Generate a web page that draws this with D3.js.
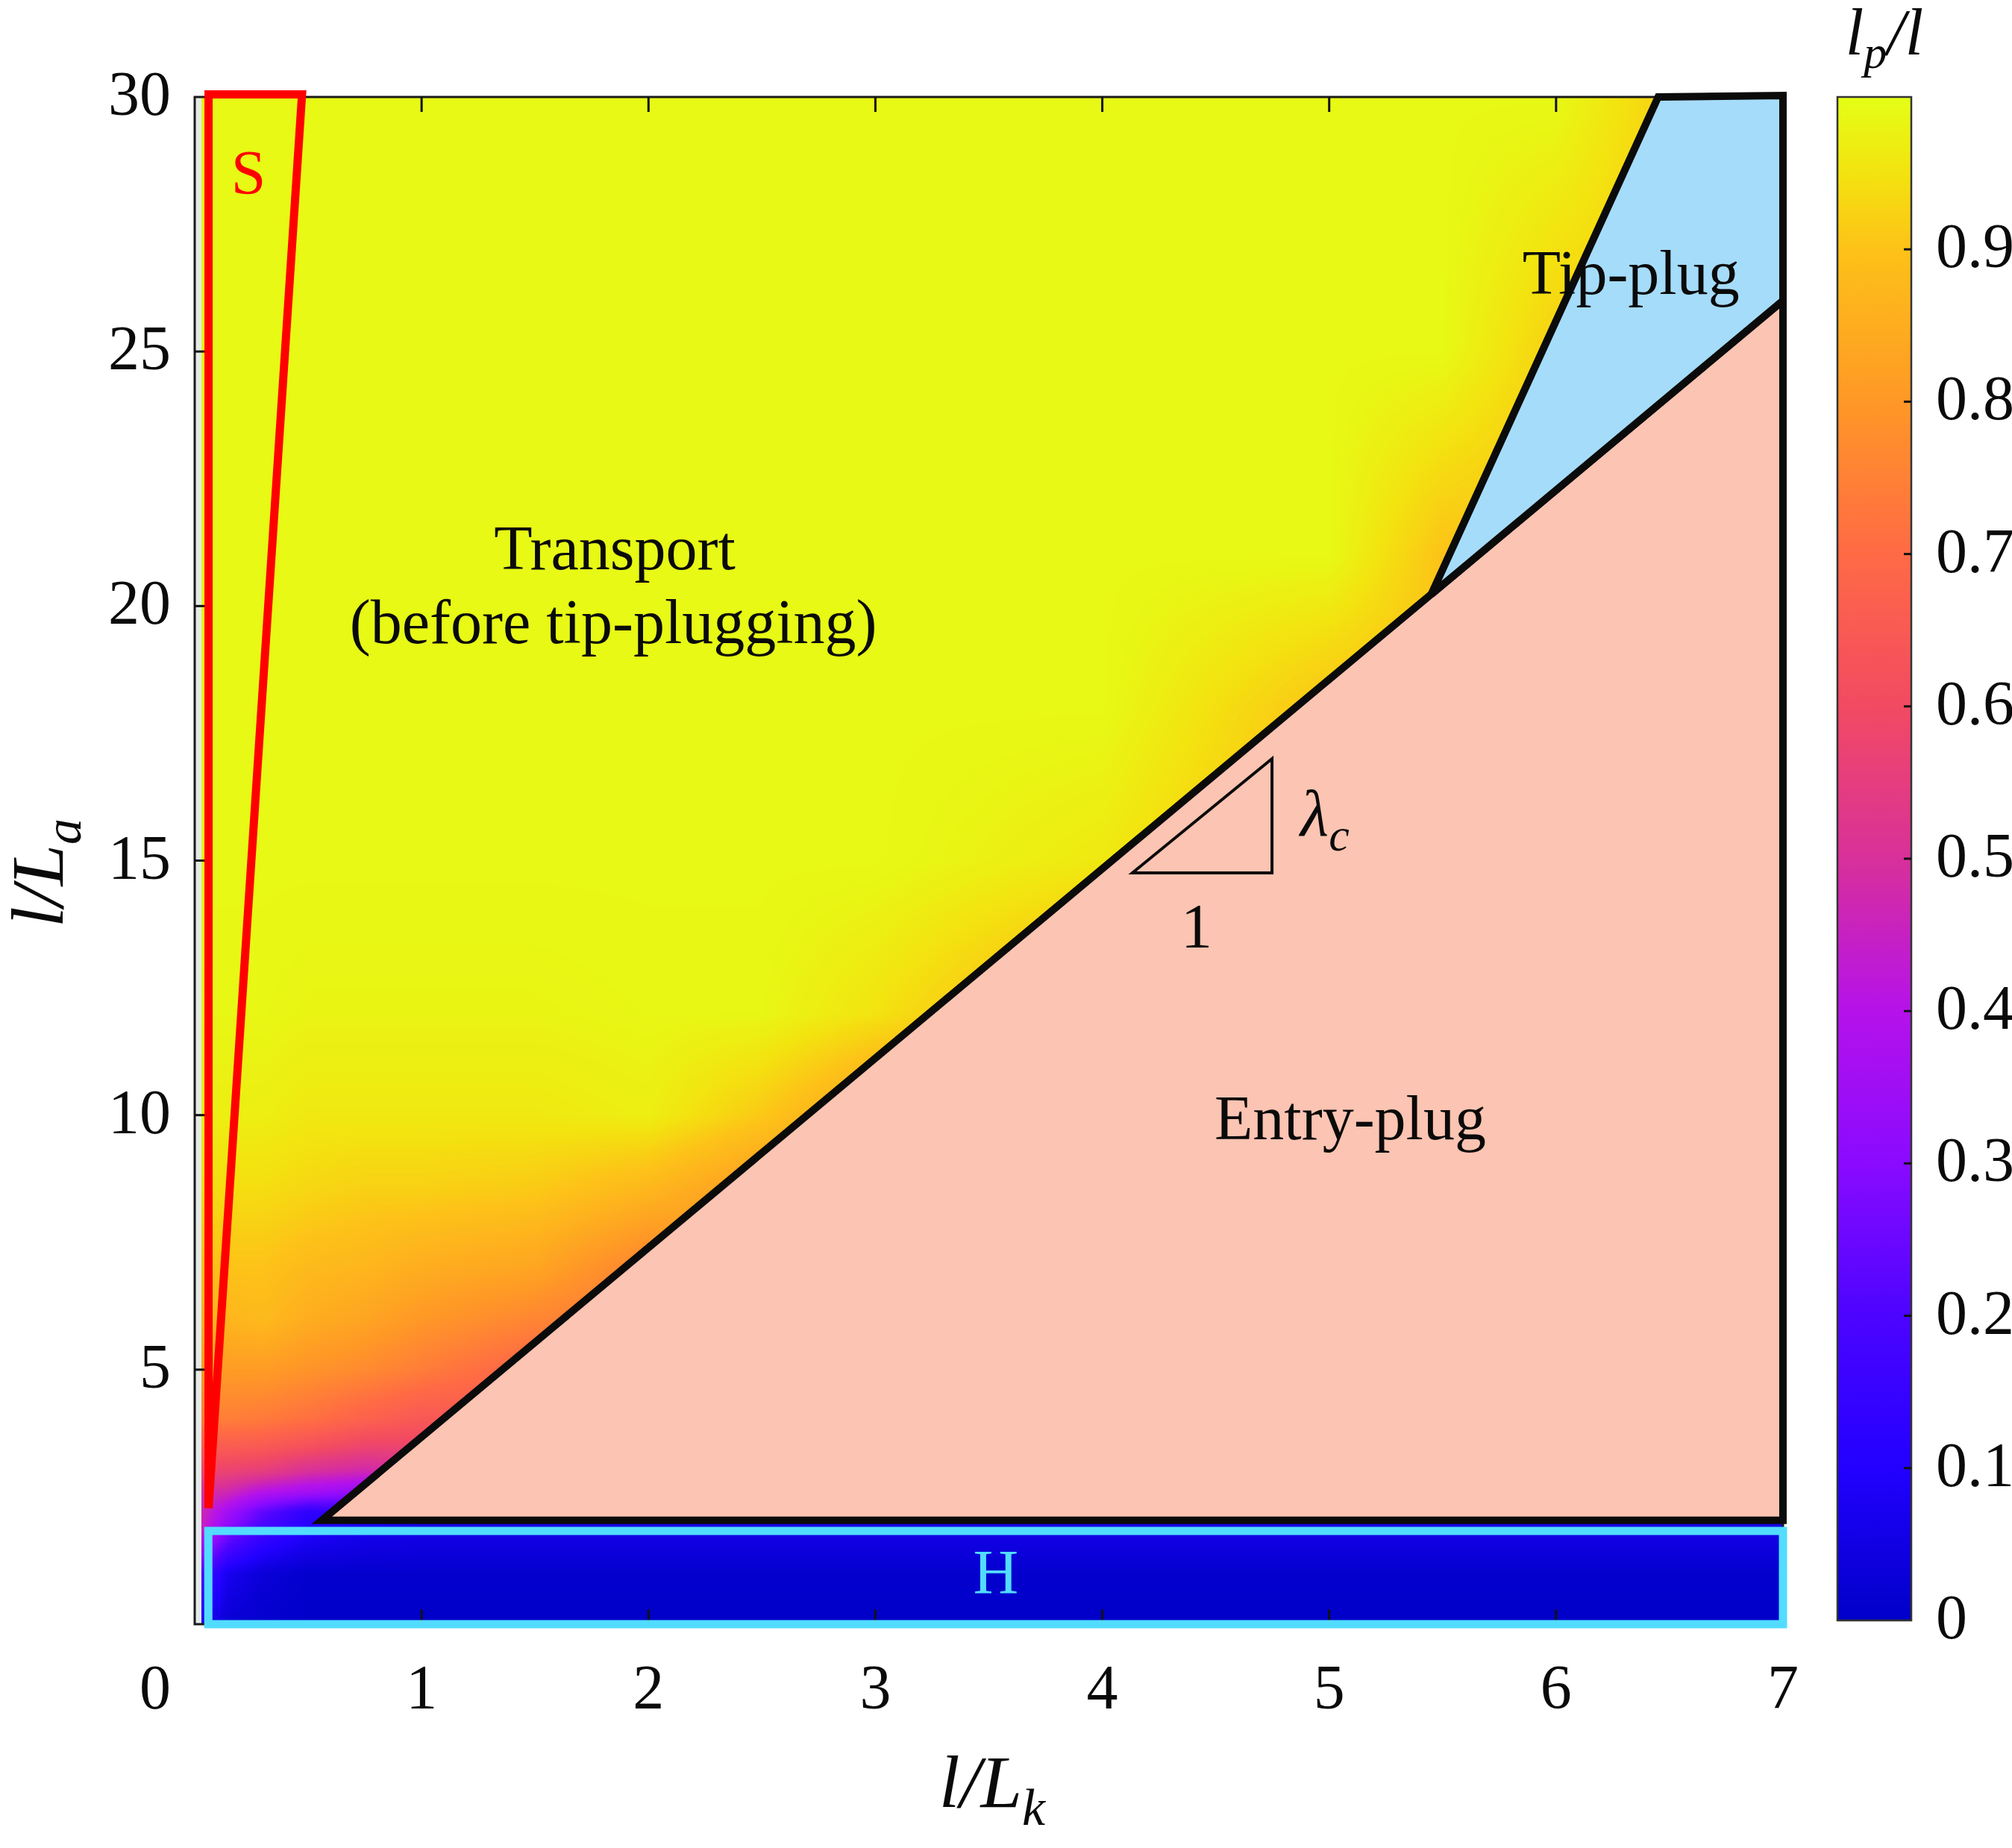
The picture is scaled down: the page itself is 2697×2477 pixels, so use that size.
<!DOCTYPE html>
<html>
<head>
<meta charset="utf-8">
<script src="https://cdn.jsdelivr.net/npm/d3@7"></script>
<style>
  body { margin: 0; background: #fff; }
  #wrap { position: relative; width: 2697px; height: 2477px; }
  #wrap canvas, #wrap svg { position: absolute; left: 0; top: 0; }
  text { font-family: "Liberation Serif", "Times New Roman", serif; fill: #0a0a0a; }
</style>
</head>
<body>
<div id="wrap"><canvas id="heat"></canvas><svg id="chart"></svg></div>
<script>
const W = 2697, H = 2477;

const heatX = [0.03, 0.15, 0.3, 0.5, 0.75, 1.0, 1.5, 2.0, 2.5, 3.0, 4.0, 5.0, 5.5, 6.0, 6.5, 7.0];
const heatY = [0, 1, 1.85, 2.0, 2.2, 2.6, 3.0, 3.5, 4.0, 5.0, 6.0, 7.0, 8.5, 10, 12, 15, 18, 21, 25, 30];
const heatZ = [
  [0.08, 0.02, 0.01, 0.00, 0.00, 0.00, 0.00, 0.00, 0.00, 0.00, 0.00, 0.00, 0.00, 0.00, 0.00, 0.00],
  [0.20, 0.07, 0.03, 0.01, 0.01, 0.01, 0.01, 0.01, 0.01, 0.01, 0.01, 0.01, 0.01, 0.01, 0.01, 0.01],
  [0.45, 0.28, 0.17, 0.10, 0.07, 0.06, 0.06, 0.06, 0.06, 0.06, 0.06, 0.06, 0.06, 0.06, 0.06, 0.06],
  [0.46, 0.32, 0.20, 0.11, 0.08, 0.06, 0.06, 0.06, 0.06, 0.06, 0.06, 0.06, 0.06, 0.06, 0.06, 0.06],
  [0.47, 0.35, 0.23, 0.13, 0.16, 0.20, 0.65, 0.75, 0.85, 0.88, 0.90, 0.90, 0.90, 0.90, 0.90, 0.90],
  [0.50, 0.47, 0.40, 0.36, 0.32, 0.35, 0.65, 0.75, 0.85, 0.88, 0.90, 0.90, 0.90, 0.90, 0.90, 0.90],
  [0.58, 0.57, 0.55, 0.50, 0.47, 0.50, 0.65, 0.75, 0.85, 0.88, 0.90, 0.90, 0.90, 0.90, 0.90, 0.90],
  [0.66, 0.66, 0.65, 0.62, 0.58, 0.58, 0.65, 0.75, 0.85, 0.88, 0.90, 0.90, 0.90, 0.90, 0.90, 0.90],
  [0.74, 0.74, 0.73, 0.71, 0.67, 0.64, 0.65, 0.75, 0.85, 0.88, 0.90, 0.90, 0.90, 0.90, 0.90, 0.90],
  [0.81, 0.81, 0.81, 0.79, 0.77, 0.74, 0.68, 0.75, 0.85, 0.88, 0.90, 0.90, 0.90, 0.90, 0.90, 0.90],
  [0.86, 0.87, 0.88, 0.85, 0.83, 0.80, 0.76, 0.72, 0.85, 0.88, 0.90, 0.90, 0.90, 0.90, 0.90, 0.90],
  [0.89, 0.90, 0.90, 0.88, 0.87, 0.85, 0.83, 0.75, 0.85, 0.88, 0.90, 0.90, 0.90, 0.90, 0.90, 0.90],
  [0.94, 0.94, 0.94, 0.93, 0.92, 0.92, 0.91, 0.87, 0.80, 0.88, 0.90, 0.90, 0.90, 0.90, 0.90, 0.90],
  [0.97, 0.97, 0.97, 0.96, 0.96, 0.96, 0.96, 0.97, 0.91, 0.82, 0.90, 0.90, 0.90, 0.90, 0.90, 0.90],
  [0.985, 0.985, 0.985, 0.98, 0.98, 0.98, 0.98, 0.985, 0.985, 0.95, 0.85, 0.90, 0.90, 0.90, 0.90, 0.90],
  [0.99, 0.99, 0.99, 0.99, 0.99, 0.99, 0.99, 0.99, 0.99, 0.99, 0.96, 0.88, 0.90, 0.90, 0.90, 0.90],
  [0.99, 0.99, 0.99, 0.99, 0.99, 0.99, 0.99, 0.99, 0.99, 0.99, 0.99, 0.90, 0.90, 0.90, 0.90, 0.90],
  [0.99, 0.99, 0.99, 0.99, 0.99, 0.99, 0.99, 0.99, 0.99, 0.99, 0.99, 0.99, 0.90, 0.90, 0.92, 0.92],
  [0.99, 0.99, 0.99, 0.99, 0.99, 0.99, 0.99, 0.99, 0.99, 0.99, 0.99, 0.99, 0.99, 0.92, 0.92, 0.92],
  [0.99, 0.99, 0.99, 0.99, 0.99, 0.99, 0.99, 0.99, 0.99, 0.99, 0.99, 0.99, 0.99, 0.99, 0.92, 0.92]
];

// colour map of the colour bar
const cmapValues = [0, 0.1, 0.2, 0.3, 0.4, 0.5, 0.6, 0.7, 0.8, 0.9, 0.95, 1.0];
const cmapColors = ['#0000c8', '#2200ff', '#4c04ff', '#8a0aff', '#b512ea', '#d8309a',
                    '#f24a62', '#ff6a45', '#ff9826', '#fdc218', '#f3e30f', '#e4ff16'];

const xTicks = [1, 2, 3, 4, 5, 6, 7];
const yTicks = [5, 10, 15, 20, 25, 30];
const cbTicks = [0.1, 0.2, 0.3, 0.4, 0.5, 0.6, 0.7, 0.8, 0.9];

// regime outlines in data coordinates
const entryPlug = [[0.56, 2.04], [7.0, 2.04], [7.0, 26.0]];
const tipPlug = [[5.45, 20.23], [6.45, 30.0], [7.0, 30.03], [7.0, 26.0]];
const sRegion = [[0.061, 30.05], [0.473, 30.05], [0.061, 2.28]];
const hRegion = [[0.06, 0], [7.0, 1.832]];
const slopeTri = [[4.133, 14.76], [4.748, 14.76], [4.748, 17.0]];

const x = d3.scaleLinear().domain([0, 7]).range([261, 2390]);
const y = d3.scaleLinear().domain([0, 30]).range([2177, 130]);
const cb = d3.scaleLinear().domain([0, 1]).range([2172, 130]);
const color = d3.scaleLinear().domain(cmapValues).range(cmapColors).clamp(true);

// ---- heat map (bilinear shading of the grid, like shading interp)
const px0 = x(0), py0 = y(30);
const cw = Math.round(x(7) - px0), ch = Math.round(y(0) - py0);
const canvas = d3.select('#heat')
  .attr('width', cw).attr('height', ch)
  .style('left', px0 + 'px').style('top', py0 + 'px')
  .node();
const ctx = canvas.getContext('2d');
const img = ctx.createImageData(cw, ch);
const lut = d3.range(1001).map(k => d3.rgb(color(k / 1000)));
const cell = (arr, v) => Math.max(0, Math.min(arr.length - 2, d3.bisectRight(arr, v) - 1));
const colIdx = d3.range(cw).map(i => {
  const dx = x.invert(px0 + i + 0.5);
  const c = cell(heatX, dx);
  return { dx, c, t: Math.max(0, Math.min(1, (dx - heatX[c]) / (heatX[c + 1] - heatX[c]))) };
});
for (let j = 0; j < ch; j++) {
  const dy = y.invert(py0 + j + 0.5);
  const r = cell(heatY, dy);
  const ty = Math.max(0, Math.min(1, (dy - heatY[r]) / (heatY[r + 1] - heatY[r])));
  const z0 = heatZ[r], z1 = heatZ[r + 1];
  for (let i = 0; i < cw; i++) {
    const k = (j * cw + i) * 4;
    const ci = colIdx[i];
    if (ci.dx < heatX[0]) {
      img.data[k] = 228; img.data[k + 1] = 235; img.data[k + 2] = 233; img.data[k + 3] = 255;
      continue;
    }
    const c = ci.c, tx = ci.t;
    const a = z0[c] + (z0[c + 1] - z0[c]) * tx;
    const b = z1[c] + (z1[c + 1] - z1[c]) * tx;
    const col = lut[Math.round((a + (b - a) * ty) * 1000)];
    img.data[k] = col.r; img.data[k + 1] = col.g; img.data[k + 2] = col.b; img.data[k + 3] = 255;
  }
}
ctx.putImageData(img, 0, 0);

// ---- vector layer
const svg = d3.select('#chart').attr('width', W).attr('height', H);
const poly = d3.line().x(d => x(d[0])).y(d => y(d[1]));

// frame and inward ticks
svg.append('rect')
  .attr('x', x(0)).attr('y', y(30))
  .attr('width', x(7) - x(0)).attr('height', y(0) - y(30))
  .attr('fill', 'none').attr('stroke', '#1a1a1a').attr('stroke-width', 3);

const ticks = svg.append('g').attr('stroke', '#111').attr('stroke-width', 3);
ticks.selectAll('.yt').data(yTicks.slice(0, -1)).join('line')
  .attr('x1', x(0)).attr('x2', x(0) + 14)
  .attr('y1', d => y(d)).attr('y2', d => y(d));
ticks.selectAll('.xb').data(xTicks.slice(0, -1)).join('line').attr('class', 'xb')
  .attr('x1', d => x(d)).attr('x2', d => x(d))
  .attr('y1', y(0)).attr('y2', y(0) - 20);
ticks.selectAll('.xt').data(xTicks.slice(0, -1)).join('line').attr('class', 'xt')
  .attr('x1', d => x(d)).attr('x2', d => x(d))
  .attr('y1', y(30)).attr('y2', y(30) + 20);

// regimes
svg.append('path')
  .attr('d', poly(entryPlug) + 'Z')
  .attr('fill', '#fcc4b2').attr('stroke', '#0b0b0b')
  .attr('stroke-width', 10).attr('stroke-linejoin', 'miter');
svg.append('path')
  .attr('d', poly(tipPlug) + 'Z')
  .attr('fill', '#a5dcf9').attr('stroke', '#0b0b0b')
  .attr('stroke-width', 10).attr('stroke-linejoin', 'miter');
svg.append('rect')
  .attr('x', x(hRegion[0][0])).attr('y', y(hRegion[1][1]))
  .attr('width', x(hRegion[1][0]) - x(hRegion[0][0]))
  .attr('height', y(hRegion[0][1]) - y(hRegion[1][1]))
  .attr('fill', 'none').attr('stroke', '#52dcff').attr('stroke-width', 11);
svg.append('path')
  .attr('d', poly(sRegion) + 'Z')
  .attr('fill', 'none').attr('stroke', '#ff0000')
  .attr('stroke-width', 11).attr('stroke-linejoin', 'miter');

// slope triangle
svg.append('path')
  .attr('d', poly(slopeTri) + 'Z')
  .attr('fill', 'none').attr('stroke', '#0b0b0b').attr('stroke-width', 4);

// tick labels
svg.append('g').selectAll('text').data(yTicks).join('text')
  .attr('x', 229).attr('y', d => y(d) + 24)
  .attr('text-anchor', 'end').attr('font-size', 84)
  .text(d => d);
svg.append('g').selectAll('text').data(xTicks).join('text')
  .attr('x', d => x(d)).attr('y', 2290)
  .attr('text-anchor', 'middle').attr('font-size', 84)
  .text(d => d);
svg.append('text')
  .attr('x', 229).attr('y', 2290)
  .attr('text-anchor', 'end').attr('font-size', 84)
  .text('0');

// axis titles
const xt = svg.append('text')
  .attr('x', 1330).attr('y', 2422)
  .attr('text-anchor', 'middle').attr('font-size', 100).attr('font-style', 'italic');
xt.append('tspan').text('l/L');
xt.append('tspan').attr('font-size', 70).attr('dy', 24).text('k');

const yt = svg.append('text')
  .attr('transform', 'translate(84,1170) rotate(-90)')
  .attr('text-anchor', 'middle').attr('font-size', 100).attr('font-style', 'italic');
yt.append('tspan').text('l/L');
yt.append('tspan').attr('font-size', 70).attr('dy', 24).text('a');

// region labels
svg.append('text')
  .attr('x', x(0.237)).attr('y', y(28.1))
  .attr('text-anchor', 'middle').attr('font-size', 84).style('fill', '#ff0000')
  .text('S');
svg.append('text')
  .attr('x', x(1.851)).attr('y', y(20.72))
  .attr('text-anchor', 'middle').attr('font-size', 84)
  .text('Transport');
svg.append('text')
  .attr('x', x(1.845)).attr('y', y(19.27))
  .attr('text-anchor', 'middle').attr('font-size', 84)
  .text('(before tip-plugging)');
svg.append('text')
  .attr('x', x(6.33)).attr('y', y(26.13))
  .attr('text-anchor', 'middle').attr('font-size', 84)
  .text('Tip-plug');
svg.append('text')
  .attr('x', x(5.093)).attr('y', y(9.53))
  .attr('text-anchor', 'middle').attr('font-size', 84)
  .text('Entry-plug');
svg.append('text')
  .attr('x', x(3.531)).attr('y', y(0.6))
  .attr('text-anchor', 'middle').attr('font-size', 84).style('fill', '#52dcff')
  .text('H');
const lam = svg.append('text')
  .attr('x', x(4.873)).attr('y', y(15.49))
  .attr('font-size', 88).attr('font-style', 'italic');
lam.append('tspan').text('λ');
lam.append('tspan').attr('font-size', 62).attr('dy', 20).text('c');
svg.append('text')
  .attr('x', x(4.416)).attr('y', y(13.29))
  .attr('text-anchor', 'middle').attr('font-size', 84)
  .text('1');

// colour bar
const grad = svg.append('defs').append('linearGradient')
  .attr('id', 'cbar').attr('x1', 0).attr('x2', 0).attr('y1', 1).attr('y2', 0);
grad.selectAll('stop').data(cmapValues).join('stop')
  .attr('offset', d => d)
  .attr('stop-color', d => color(d));
svg.append('rect')
  .attr('x', 2463).attr('y', cb(1))
  .attr('width', 99).attr('height', cb(0) - cb(1))
  .attr('fill', 'url(#cbar)').attr('stroke', '#333').attr('stroke-width', 2.5);
svg.append('g').attr('stroke', '#111').attr('stroke-width', 3)
  .selectAll('line').data(cbTicks).join('line')
  .attr('x1', 2552).attr('x2', 2562)
  .attr('y1', d => cb(d)).attr('y2', d => cb(d));
svg.append('g').selectAll('text').data([0].concat(cbTicks)).join('text')
  .attr('x', 2595).attr('y', d => cb(d) + 24)
  .attr('font-size', 84)
  .text(d => d === 0 ? '0' : d3.format('.1f')(d));

const ct = svg.append('text')
  .attr('x', 2526).attr('y', 73)
  .attr('text-anchor', 'middle').attr('font-size', 88).attr('font-style', 'italic');
ct.append('tspan').text('l');
ct.append('tspan').attr('font-size', 62).attr('dy', 18).text('p');
ct.append('tspan').attr('dy', -18).text('/l');
</script>
</body>
</html>
